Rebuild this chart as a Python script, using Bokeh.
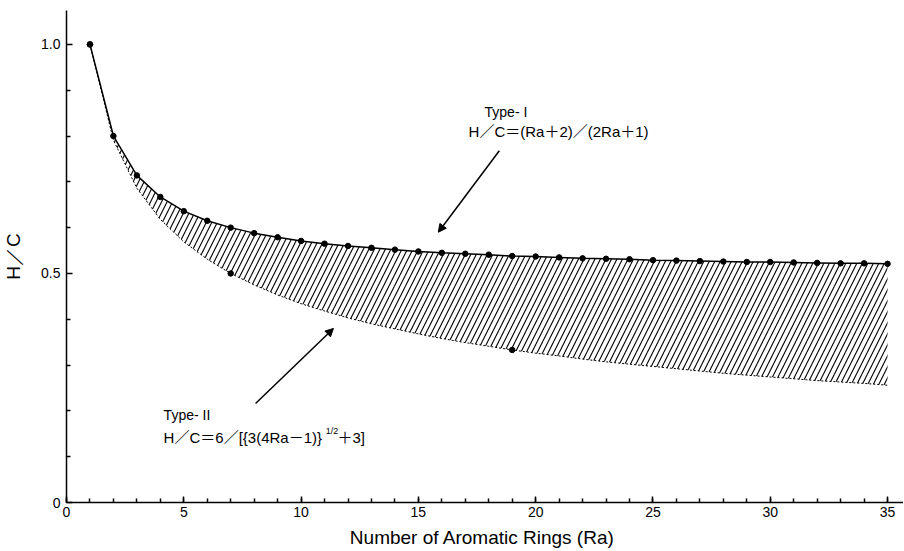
from bokeh.plotting import figure
from bokeh.models import FixedTicker, CustomJSTickFormatter, Arrow, NormalHead, Range1d
from bokeh.core.properties import value
from bokeh.embed import file_html
from bokeh.resources import INLINE

ra = list(range(1, 36))
type1 = [1.000, 0.800, 0.714, 0.667, 0.636, 0.615, 0.600, 0.588, 0.579, 0.571,
         0.565, 0.560, 0.556, 0.552, 0.548, 0.545, 0.543, 0.541, 0.538, 0.537,
         0.535, 0.533, 0.532, 0.531, 0.529, 0.528, 0.527, 0.526, 0.525, 0.525,
         0.524, 0.523, 0.522, 0.522, 0.521]
type2 = [1.000, 0.791, 0.686, 0.618, 0.569, 0.531, 0.500, 0.475, 0.453, 0.434,
         0.418, 0.403, 0.390, 0.379, 0.368, 0.358, 0.349, 0.341, 0.333, 0.326,
         0.320, 0.313, 0.307, 0.302, 0.297, 0.292, 0.287, 0.282, 0.278, 0.274,
         0.270, 0.266, 0.263, 0.260, 0.256]
type2_pts_x = [1, 7, 19]
type2_pts_y = [1.000, 0.500, 0.333]

x_major = [0, 5, 10, 15, 20, 25, 30, 35]
x_minor = list(range(0, 36))
y_major = [0.0, 0.5, 1.0]
y_minor = [0.1, 0.2, 0.3, 0.4, 0.6, 0.7, 0.8, 0.9]

FONT = "Liberation Sans"
FONT_ANN = "Liberation Sans, Noto Sans CJK JP"

p = figure(width=903, height=550, output_backend="svg", toolbar_location=None,
           x_range=Range1d(0, 35.68), y_range=Range1d(0, 1.074),
           min_border_left=66, min_border_right=0, min_border_top=10, min_border_bottom=48)
p.outline_line_color = None
p.grid.grid_line_color = None
p.background_fill_color = "white"

# hatched band
p.varea(x=ra, y1=type2, y2=type1, fill_alpha=0, hatch_pattern="/", hatch_color="black",
        hatch_weight=1.1, hatch_scale=11)
p.line(ra, type2, line_color="black", line_width=1, line_dash="2 2")
p.line(ra, type1, line_color="black", line_width=1.5)
p.scatter(ra, type1, size=5.5, color="black")
p.scatter(type2_pts_x, type2_pts_y, size=5.5, color="black")

# arrows
p.add_layout(Arrow(x_start=18.45, y_start=0.768, x_end=15.85, y_end=0.590,
                   line_width=1.5, line_color="black",
                   end=NormalHead(size=8, fill_color="black", line_color="black")))
p.add_layout(Arrow(x_start=8.06, y_start=0.216, x_end=11.38, y_end=0.380,
                   line_width=1.5, line_color="black",
                   end=NormalHead(size=8, fill_color="black", line_color="black")))

# annotations
tk = dict(text_font=value(FONT_ANN), text_font_size="14px", text_color="black",
          text_baseline="middle", text_align="left")
fk = dict(tk, text_font_size="15px")
p.text(x=[17.82], y=[0.852], text=["Type- I"], **tk)
p.text(x=[17.14], y=[0.810], text=["H／C＝(Ra＋2)／(2Ra＋1)"], **fk)
p.text(x=[4.14], y=[0.192], text=["Type- II"], **tk)
p.text(x=[4.14], y=[0.142], text=["H／C＝6／[{3(4Ra－1)}"], **fk)
p.text(x=[11.05], y=[0.156], text=["1/2"], **dict(tk, text_font_size="9px"))
p.text(x=[11.55], y=[0.142], text=["＋3]"], **fk)

for ax in (p.xaxis[0], p.yaxis[0]):
    ax.axis_line_color = "black"
    ax.axis_line_width = 1.5
    ax.major_tick_line_color = "black"
    ax.minor_tick_line_color = "black"
    ax.major_tick_line_width = 1.5
    ax.minor_tick_line_width = 1.5
    ax.major_tick_in = 6
    ax.major_tick_out = 0
    ax.minor_tick_in = 4
    ax.minor_tick_out = 0
    ax.major_label_text_font = FONT
    ax.major_label_text_font_size = "14px"
    ax.major_label_text_color = "black"
    ax.axis_label_text_font = FONT
    ax.axis_label_text_font_size = "19px"
    ax.axis_label_text_font_style = "normal"
    ax.axis_label_text_color = "black"

p.xaxis[0].ticker = FixedTicker(ticks=x_major, minor_ticks=x_minor)
p.yaxis[0].ticker = FixedTicker(ticks=y_major, minor_ticks=y_minor)
p.yaxis[0].formatter = CustomJSTickFormatter(code="return tick == 0 ? '0' : tick.toFixed(1);")
p.xaxis[0].major_label_standoff = 4
p.yaxis[0].major_label_standoff = 6
p.xaxis[0].axis_label = "Number of Aromatic Rings  (Ra)"
p.yaxis[0].axis_label = "H／C"
p.xaxis[0].axis_label_standoff = 7
p.yaxis[0].axis_label_standoff = 14

open("out.html", "w").write(file_html(p, INLINE))
